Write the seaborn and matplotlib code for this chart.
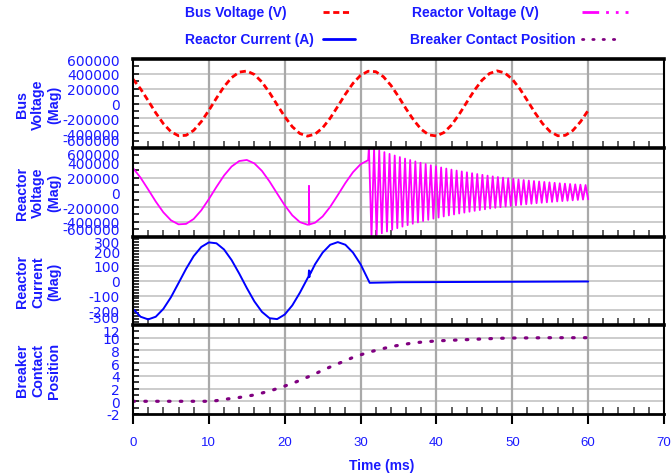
import numpy as np
import pandas as pd
import matplotlib
matplotlib.use("Agg")
import matplotlib.pyplot as plt
import seaborn as sns
from matplotlib.lines import Line2D
from matplotlib.ticker import MultipleLocator, ScalarFormatter

# ---------------- data ----------------
time_ms = np.arange(0, 61)  # 1 ms sampling grid

bus_voltage_kv = [328, 197, 38, -126, -272, -380, -435, -429, -362, -245,
                  -93, 72, 227, 349, 423, 438, 391, 289, 146, -17,
                  -177, -313, -405, -440, -413, -328, -197, -38, 126, 272,
                  380, 435, 429, 362, 245, 93, -72, -224, -349, -423,
                  -438, -391, -289, -146, 17, 177, 313, 405, 440, 413,
                  328, 197, 38, -126, -272, -380, -435, -429, -362, -245,
                  -93]

# reactor voltage before interruption (0..31 ms)
reactor_pre_t = np.arange(0, 32)
reactor_pre_kv = [328, 197, 38, -126, -272, -380, -435, -429, -362, -245,
                  -93, 72, 227, 349, 423, 438, 391, 289, 146, -17,
                  -177, -313, -405, -440, -413, -328, -197, -38, 126, 272,
                  380, 435]
# spike at ~23.2 ms
spike_t = [23.2, 23.2, 23.25]
spike_kv = [-438, 87, -437]
# high-frequency ringing after interruption: extrema every half period
ring_start_ms = 31.1
ring_half_period_ms = 0.34
ring_kv = [620, -607, 593, -581, 568, -556, 544, -532, 520, -509,
           498, -487, 477, -466, 456, -446, 437, -427, 418, -409,
           400, -391, 383, -374, 366, -358, 351, -343, 336, -328,
           321, -314, 307, -301, 294, -288, 282, -276, 270, -264,
           258, -252, 247, -242, 236, -231, 226, -221, 216, -212,
           207, -203, 198, -194, 190, -186, 182, -178, 174, -170,
           166, -163, 159, -156, 152, -149, 146, -143, 140, -137,
           134, -131, 128, -125, 122, -120, 117, -115, 112, -110,
           107, -105, 103, -100, 98, -96]

# reactor current
current_pre_t = np.arange(0, 31)
current_pre_a = [-191, -244, -262, -244, -191, -112, -16, 81, 167, 229,
                 260, 254, 212, 140, 49, -49, -140, -211, -254, -260,
                 -229, -167, -81, 16, 112, 191, 244, 262, 244, 191,
                 112]
glitch_t = [23.15, 23.2, 23.25, 23.3, 23.4]
glitch_a = [30, 70, 25, 65, 50]
current_post_t = [31.2, 35, 40, 45, 50, 55, 60]
current_post_a = [-14, -10, -9, -8, -7, -6, -5]

# breaker contact position
breaker_t = [0, 5, 10, 11, 12, 13, 14, 15, 16, 17, 18, 19, 20, 21, 22, 23,
             24, 25, 26, 27, 28, 29, 30, 31, 32, 33, 34, 35, 36, 37, 38, 39,
             40, 42, 44, 46, 48, 50, 55, 60]
breaker_pos = [0, 0, 0, 0.1, 0.3, 0.45, 0.6, 0.8, 1.0, 1.3, 1.6, 2.0, 2.4,
               2.8, 3.3, 3.8, 4.3, 4.9, 5.4, 5.9, 6.4, 6.9, 7.3, 7.7, 8.0,
               8.3, 8.6, 8.8, 9.0, 9.2, 9.3, 9.4, 9.5, 9.6, 9.7, 9.8, 9.9,
               9.95, 10, 10]

x_ticks = [0, 10, 20, 30, 40, 50, 60, 70]
panel_labels = ["Bus\nVoltage\n(Mag)", "Reactor\nVoltage\n(Mag)",
                "Reactor\nCurrent\n(Mag)", "Breaker\nContact\nPosition"]
legend_labels = ["Bus Voltage (V)", "Reactor Voltage (V)",
                 "Reactor Current (A)", "Breaker Contact Position"]

# ---------------- build tables ----------------
bus_df = pd.DataFrame({"t": time_ms, "v": np.array(bus_voltage_kv) * 1000.0})

ring_t = ring_start_ms + ring_half_period_ms * np.arange(len(ring_kv))
rv_t = list(reactor_pre_t[:24]) + spike_t + list(reactor_pre_t[24:]) + list(ring_t)
rv_v = reactor_pre_kv[:24] + spike_kv + reactor_pre_kv[24:] + ring_kv
rv_df = pd.DataFrame({"t": rv_t, "v": np.array(rv_v) * 1000.0})

ci_t = list(current_pre_t[:24]) + glitch_t + list(current_pre_t[24:]) + current_post_t
ci_v = current_pre_a[:24] + glitch_a + current_pre_a[24:] + current_post_a
cur_df = pd.DataFrame({"t": ci_t, "i": ci_v})

brk_df = pd.DataFrame({"t": breaker_t, "p": breaker_pos})

# ---------------- style ----------------
sns.set_theme(style="white")
plt.rcParams["font.family"] = ["Liberation Sans", "DejaVu Sans"]
plt.rcParams["axes.unicode_minus"] = False

BLUE_TXT = "#1a1aff"
RED = "#ff0000"
MAG = "#ff00ff"
BLUE = "#0000ff"
PURP = "#800080"
BUS_DASH = (0, (2.2, 1.3))
DOT = (0, (0.5, 3.2))

W, H = 672, 477
fig = plt.figure(figsize=(W / 100, H / 100), dpi=100)
L, R = 133 / W, 664 / W
tops = [60, 149, 237.5, 326]
bots = [149, 237.5, 326, 415]
axes = [fig.add_axes([L, 1 - b / H, R - L, (b - t) / H]) for t, b in zip(tops, bots)]

sns.lineplot(data=bus_df, x="t", y="v", ax=axes[0], color=RED, lw=2.0,
             linestyle=BUS_DASH, estimator=None, sort=False)
sns.lineplot(data=rv_df, x="t", y="v", ax=axes[1], color=MAG, lw=1.3,
             estimator=None, sort=False)
sns.lineplot(data=cur_df, x="t", y="i", ax=axes[2], color=BLUE, lw=1.4,
             estimator=None, sort=False)
sns.lineplot(data=brk_df, x="t", y="p", ax=axes[3], color=PURP, lw=2.3,
             linestyle=DOT, estimator=None, sort=False, dash_capstyle="round")

ylims = [(-600000, 600000), (-600000, 600000), (-300, 300), (-2, 12)]
ymaj = [200000, 200000, 100, 2]
ymin = [100000, 100000, 20, 1]

for k, ax in enumerate(axes):
    ax.set_xlim(0, 70)
    ax.set_ylim(*ylims[k])
    ax.set_xlabel("")
    ax.set_ylabel("")
    ax.xaxis.set_major_locator(MultipleLocator(10))
    ax.xaxis.set_minor_locator(MultipleLocator(2))
    ax.yaxis.set_major_locator(MultipleLocator(ymaj[k]))
    ax.yaxis.set_minor_locator(MultipleLocator(ymin[k]))
    fmt = ScalarFormatter(useOffset=False)
    fmt.set_scientific(False)
    ax.yaxis.set_major_formatter(fmt)
    ax.grid(False)
    for xv in x_ticks[1:-1]:
        ax.axvline(xv, color="#a9a9a9", lw=1.6, zorder=0.5)
    lo, hi = ylims[k]
    for yv in np.arange(lo, hi + ymaj[k] * 0.5, ymaj[k])[1:-1]:
        ax.axhline(yv, color="#c4c4c4", lw=1.2, zorder=0.4)
    for s in ["left", "right"]:
        ax.spines[s].set_visible(True)
        ax.spines[s].set_color("black")
        ax.spines[s].set_linewidth(1.5)
    ax.spines["top"].set_visible(True)
    ax.spines["top"].set_color("black")
    ax.spines["top"].set_linewidth(2.6)
    ax.spines["bottom"].set_visible(k == 3)
    ax.spines["bottom"].set_color("black")
    ax.spines["bottom"].set_linewidth(2.0)
    ax.tick_params(axis="y", which="both", direction="in", left=True, right=False,
                   color="black", labelcolor=BLUE_TXT, width=1.1)
    ax.tick_params(axis="y", which="major", length=4.5, pad=9.5, labelsize=10)
    ax.tick_params(axis="y", which="minor", length=4.5)
    ax.tick_params(axis="x", which="minor", direction="in", bottom=True, top=False,
                   length=5, width=1.1, color="#333333")
    if k < 3:
        ax.tick_params(axis="x", which="major", bottom=False, labelbottom=False)
    else:
        ax.set_xticks(x_ticks)
        ax.tick_params(axis="x", which="major", direction="out", bottom=True,
                       length=7, width=1.5, color="black", labelcolor=BLUE_TXT,
                       labelsize=9.5, pad=9)
    cy = 1 - (tops[k] + bots[k]) / 2 / H
    fig.text(38 / W, cy, panel_labels[k], rotation=90, ha="center", va="center",
             multialignment="center", fontsize=10.3, fontweight="bold",
             color=BLUE_TXT, linespacing=1.22)

fig.text(382 / W, 1 - 466 / H, "Time (ms)", ha="center", va="center",
         fontsize=10, fontweight="bold", color=BLUE_TXT)

# ---------------- legend (manual layout) ----------------
leg_styles = [dict(color=RED, lw=2.0, linestyle=BUS_DASH),
              dict(color=MAG, lw=2.0, linestyle=(0, (6, 2.5, 1, 2.5, 1, 2.5))),
              dict(color=BLUE, lw=2.0, linestyle="-"),
              dict(color=PURP, lw=2.0, linestyle=DOT, dash_capstyle="round")]
leg_text_x = [185, 412, 185, 410]
leg_y = [13, 13, 40, 40]
leg_line_x = [(323, 350), (582, 628), (323, 355), (582, 618)]
for lab, st, tx, ly, (x0, x1) in zip(legend_labels, leg_styles, leg_text_x, leg_y, leg_line_x):
    fig.text(tx / W, 1 - ly / H, lab, ha="left", va="center", fontsize=10,
             fontweight="bold", color=BLUE_TXT)
    fig.add_artist(Line2D([x0 / W, x1 / W], [1 - ly / H, 1 - ly / H],
                          transform=fig.transFigure, **st))

# nudge the edge tick labels inward, as in the reference
fig.canvas.draw()
for k, ax in enumerate(axes):
    lo, hi = ylims[k]
    for tick in ax.yaxis.get_major_ticks():
        tick.label1.set_family("DejaVu Sans")
        loc = tick.get_loc()
        if k < 3 and np.isclose(loc, lo):
            tick.label1.set_verticalalignment("bottom")
        if k > 0 and np.isclose(loc, hi):
            tick.label1.set_verticalalignment("top")

fig.savefig("out.png", dpi=100)
